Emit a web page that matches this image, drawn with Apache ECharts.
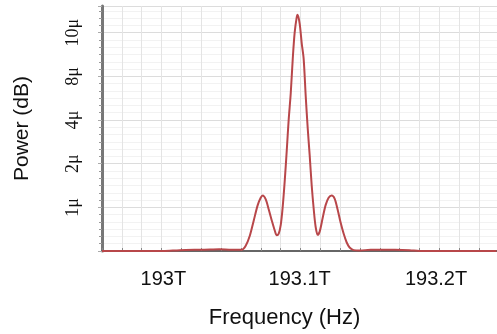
<!DOCTYPE html>
<html><head><meta charset="utf-8">
<script src="https://cdn.jsdelivr.net/npm/echarts@6/dist/echarts.min.js"></script>
<style>html,body{margin:0;padding:0;background:#fff}#c{width:497px;height:334px}</style>
</head><body><div id="c"></div>
<script>
// Frequency in THz
const freq = [192.955,193.000,193.012,193.030,193.041,193.050,193.056,193.0575,193.0604,193.0634,193.0663,193.0692,193.0714,193.0729,193.0751,193.0773,193.0795,193.0817,193.0832,193.0846,193.0861,193.0875,193.0890,193.0905,193.0919,193.0934,193.0949,193.0963,193.0978,193.0985,193.1000,193.1015,193.1029,193.1044,193.1059,193.1073,193.1088,193.1103,193.1117,193.1132,193.1147,193.1168,193.1190,193.1212,193.1234,193.1256,193.1278,193.1300,193.1322,193.1344,193.1366,193.1396,193.1440,193.1520,193.1586,193.1700,193.1806,193.1879,193.2443];
// Power in axis levels (1 level per labelled tick)
const powerLevel = [0,0,0.02,0.03,0.04,0.03,0.03,0.03,0.12,0.35,0.7,1.05,1.22,1.27,1.18,0.95,0.7,0.47,0.36,0.4,0.6,1.0,1.6,2.3,3.0,3.6,4.4,5.0,5.35,5.41,5.2,4.75,4.4,3.55,2.8,2.2,1.5,0.95,0.55,0.37,0.45,0.75,1.05,1.22,1.27,1.2,0.95,0.65,0.4,0.2,0.08,0.02,0.01,0.03,0.03,0.03,0.02,0,0];
const yTickLabels = {1:'1μ',2:'2μ',3:'4μ',4:'8μ',5:'10μ'};
const xTickValues = [193.0,193.1,193.2];

const chart = echarts.init(document.getElementById('c'), null, {renderer:'canvas'});
chart.setOption({
  animation:false,
  grid:{left:102,top:6,right:0,bottom:81,containLabel:false},
  xAxis:[{
    type:'value', min:192.955, max:193.2447, minInterval:0.1, maxInterval:0.1,
    name:'Frequency (Hz)', nameLocation:'middle', nameGap:56,
    nameTextStyle:{fontFamily:'Liberation Sans',fontSize:22,color:'#111',padding:[0,30,0,0]},
    axisLine:{show:true,lineStyle:{color:'#666',width:2}},
    axisTick:{show:false}, splitLine:{show:false},
    axisLabel:{showMinLabel:false,showMaxLabel:false,margin:18,fontFamily:'Liberation Sans',fontSize:20,color:'#111',
      formatter:v=>{const r=Math.round(v*10)/10; return xTickValues.some(t=>Math.abs(t-r)<1e-9)&&Math.abs(v-r)<1e-6 ? (+r.toFixed(1))+'T' : '';}}
  },{
    type:'value', min:0, max:19.9, interval:1, position:'bottom',
    axisLine:{show:false}, axisLabel:{show:false},
    axisTick:{show:true,inside:true,length:3,lineStyle:{color:'#888'}},
    splitLine:{show:true,lineStyle:{color:'#e4e4e4',width:1}}
  }],
  yAxis:{
    type:'value', min:0, max:5.61, interval:1,
    name:'Power (dB)', nameLocation:'middle', nameGap:69,
    nameTextStyle:{fontFamily:'Liberation Sans',fontSize:21,color:'#111'},
    axisLine:{show:true,lineStyle:{color:'#777',width:3}},
    axisTick:{show:true,length:4,inside:false,lineStyle:{color:'#aaa'}},
    minorTick:{show:true,splitNumber:6,length:3,lineStyle:{color:'#999'}},
    splitLine:{show:true,lineStyle:{color:'#dcdcdc',width:1}},
    minorSplitLine:{show:true,lineStyle:{color:'#f2f2f2'}},
    axisLabel:{rotate:90,margin:20,fontFamily:'Liberation Serif',fontSize:18,color:'#111',
      formatter:v=>yTickLabels[Math.round(v)]&&Math.abs(v-Math.round(v))<1e-6?yTickLabels[Math.round(v)]:''}
  },
  series:[{
    type:'line', xAxisIndex:0, showSymbol:false, smooth:0.3,
    data:freq.map((f,i)=>[f,powerLevel[i]]),
    lineStyle:{color:'#b8474a',width:2}
  }]
});
</script></body></html>
